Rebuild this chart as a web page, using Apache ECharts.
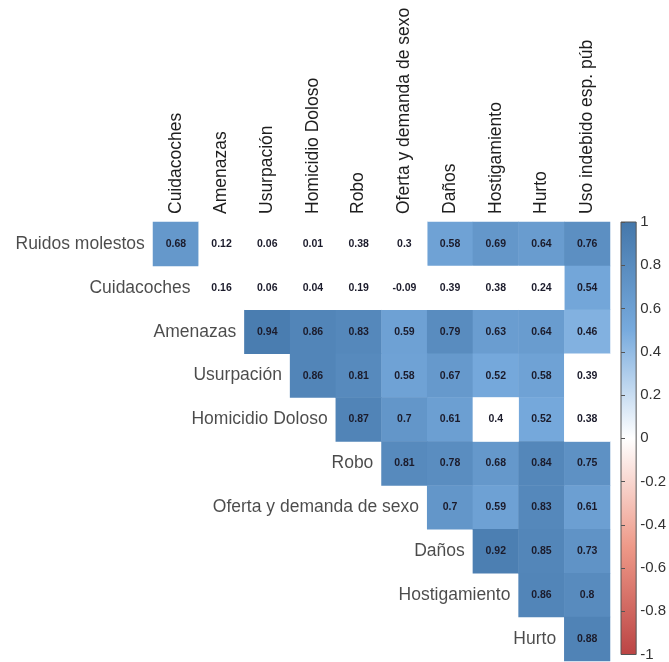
<!DOCTYPE html>
<html>
<head>
<meta charset="utf-8">
<script src="https://cdn.jsdelivr.net/npm/echarts@6/dist/echarts.min.js"></script>
<style>html,body{margin:0;padding:0;background:#fff;}#c{width:669px;height:662px;}</style>
</head>
<body>
<div id="c"></div>
<script>
// Row variables (upper-triangle rows) and column variables
const rowNames = ['Ruidos molestos','Cuidacoches','Amenazas','Usurpación','Homicidio Doloso','Robo','Oferta y demanda de sexo','Daños','Hostigamiento','Hurto'];
const colNames = ['Cuidacoches','Amenazas','Usurpación','Homicidio Doloso','Robo','Oferta y demanda de sexo','Daños','Hostigamiento','Hurto','Uso indebido esp. púb'];

// Correlation values per row (starting at the diagonal column)
const corrRuidos      = [0.68, 0.12, 0.06, 0.01, 0.38, 0.3, 0.58, 0.69, 0.64, 0.76];
const corrCuidacoches = [0.16, 0.06, 0.04, 0.19, -0.09, 0.39, 0.38, 0.24, 0.54];
const corrAmenazas    = [0.94, 0.86, 0.83, 0.59, 0.79, 0.63, 0.64, 0.46];
const corrUsurpacion  = [0.86, 0.81, 0.58, 0.67, 0.52, 0.58, 0.39];
const corrHomicidio   = [0.87, 0.7, 0.61, 0.4, 0.52, 0.38];
const corrRobo        = [0.81, 0.78, 0.68, 0.84, 0.75];
const corrOferta      = [0.7, 0.59, 0.83, 0.61];
const corrDanos       = [0.92, 0.85, 0.73];
const corrHostig      = [0.86, 0.8];
const corrHurto       = [0.88];

// Non-significant cells (drawn blank): 1 = blank
const blankRuidos      = [0,1,1,1,1,1,0,0,0,0];
const blankCuidacoches = [1,1,1,1,1,1,1,1,0];
const blankAmenazas    = [0,0,0,0,0,0,0,0];
const blankUsurpacion  = [0,0,0,0,0,0,1];
const blankHomicidio   = [0,0,0,1,0,1];
const blankRobo        = [0,0,0,0,0];
const blankOferta      = [0,0,0,0];
const blankDanos       = [0,0,0];
const blankHostig      = [0,0];
const blankHurto       = [0];

// Colorbar ticks
const cbMin = -1, cbMax = 1, cbStep = 0.2;
const palette = ['#BB4444','#EE9988','#FFFFFF','#77AADD','#4477AA'];

const corrRows = [corrRuidos,corrCuidacoches,corrAmenazas,corrUsurpacion,corrHomicidio,corrRobo,corrOferta,corrDanos,corrHostig,corrHurto];
const blankRows = [blankRuidos,blankCuidacoches,blankAmenazas,blankUsurpacion,blankHomicidio,blankRobo,blankOferta,blankDanos,blankHostig,blankHurto];

const sigData = [], blankData = [], rowLabelData = [];
corrRows.forEach((vals, i) => {
  rowLabelData.push([i, i, rowNames[i]]);
  vals.forEach((v, k) => {
    const j = i + k;
    if (blankRows[i][k]) blankData.push([j, i, v]);
    else sigData.push([j, i, v]);
  });
});

const FONT = "'Liberation Sans', Arial, sans-serif";
const G = {left:153, top:222, width:457, height:439};
const chart = echarts.init(document.getElementById('c'), null, {renderer:'canvas'});
const numLabel = {show:true, fontFamily:FONT, fontSize:10.5, fontWeight:'bold', color:'#1b1b2b', formatter:p => String(p.data[2])};

chart.setOption({
  animation:false,
  backgroundColor:'#ffffff',
  grid:[
    {left:G.left, top:G.top, width:G.width, height:G.height},
    {left:621, top:G.top, width:16, height:G.height, show:true, borderColor:'#555', borderWidth:1,
     backgroundColor:new echarts.graphic.LinearGradient(0,0,0,1,[
       {offset:0,color:palette[4]},{offset:0.25,color:palette[3]},{offset:0.5,color:palette[2]},{offset:0.75,color:palette[1]},{offset:1,color:palette[0]}])}
  ],
  xAxis:[
    {type:'category', gridIndex:0, data:colNames, position:'top',
     axisLine:{show:false}, axisTick:{show:false}, splitLine:{show:false},
     axisLabel:{rotate:-90, margin:8, fontFamily:FONT, fontSize:17.5, color:'#1e1e1e', interval:0}},
    {type:'value', gridIndex:1, show:false, min:0, max:1}
  ],
  yAxis:[
    {type:'category', gridIndex:0, data:rowNames, inverse:true,
     axisLine:{show:false}, axisTick:{show:false}, splitLine:{show:false}, axisLabel:{show:false}},
    {type:'value', gridIndex:1, position:'right', min:cbMin, max:cbMax, interval:cbStep,
     axisLine:{show:false}, splitLine:{show:false},
     axisTick:{show:true, length:4, lineStyle:{color:'#555'}},
     axisLabel:{margin:4, fontFamily:FONT, fontSize:15, color:'#333',
       formatter:v => String(Math.round(v*10)/10)}}
  ],
  visualMap:{type:'continuous', show:false, min:cbMin, max:cbMax, dimension:2, seriesIndex:0, inRange:{color:palette}},
  series:[
    {type:'heatmap', xAxisIndex:0, yAxisIndex:0, data:sigData, label:numLabel, itemStyle:{borderWidth:0}, emphasis:{disabled:true}},
    {type:'heatmap', xAxisIndex:0, yAxisIndex:0, data:blankData, label:numLabel, itemStyle:{color:'#ffffff', borderWidth:0}, emphasis:{disabled:true}},
    {type:'scatter', xAxisIndex:0, yAxisIndex:0, data:rowLabelData, symbolSize:0, silent:true,
     label:{show:true, position:'left', distance:31, fontFamily:FONT, fontSize:17.5, color:'#1e1e1e', formatter:p => p.data[2]}}
  ]
});
</script>
</body>
</html>
